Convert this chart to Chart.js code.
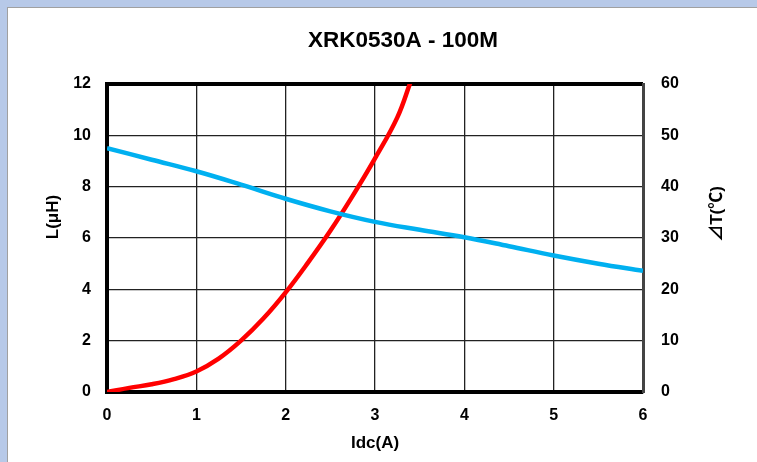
<!DOCTYPE html>
<html>
<head>
<meta charset="utf-8">
<script src="https://cdn.jsdelivr.net/npm/chart.js@4/dist/chart.umd.min.js"></script>
<style>
    html, body { margin: 0; padding: 0; }
    body { width: 757px; height: 462px; background: #b7c9e8; position: relative; overflow: hidden; }
    #panel { position: absolute; left: 7px; top: 7px; width: 760px; height: 470px; background: #fff; border: 1px solid #a0a0a0; }
    #wrap { position: absolute; left: 0; top: 0; width: 757px; height: 462px; }
</style>
</head>
<body>
<div id="panel"></div>
<div id="wrap"><canvas id="chart" width="757" height="462"></canvas></div>
<script>
// Dữ liệu biểu đồ
var chartTitle = 'XRK0530A - 100M';
var xTitle = 'Idc(A)';
var yTitle = 'L(μH)';
var y1Title = '⊿T(℃)';

// Đường cong L (trục trái)
var lCurrent = [0, 0.5, 1, 1.5, 2, 2.5, 3, 3.5, 4, 4.5, 5, 5.5, 6];
var lValues = [9.5, 9.05, 8.6, 8.08, 7.53, 7.04, 6.63, 6.32, 6.03, 5.68, 5.32, 5.0, 4.72];

// Đường cong nhiệt độ (trục phải)
var tCurrent = [0, 0.25, 0.5, 0.75, 1, 1.25, 1.5, 1.75, 2, 2.25, 2.5, 2.75, 3, 3.25, 3.4];
var tValues = [0, 0.8, 1.5, 2.5, 4.0, 6.5, 10, 14.3, 19.4, 25.2, 31.4, 38.2, 45.5, 53.5, 60.5];

var xTicks = [0, 1, 2, 3, 4, 5, 6];
var yTicks = [0, 2, 4, 6, 8, 10, 12];
var y1Ticks = [0, 10, 20, 30, 40, 50, 60];

var FONT = '"Liberation Sans", Arial, "Noto Sans CJK SC", sans-serif';

function toPoints(xs, ys) {
    return xs.map(function(x, i) { return { x: x, y: ys[i] }; });
}

// Vẽ tiêu đề và tên trục
var titlesPlugin = {
    id: 'titlesPlugin',
    afterDraw: function(chart) {
        var ctx = chart.ctx;
        ctx.save();
        ctx.fillStyle = '#000';
        ctx.textAlign = 'center';
        ctx.textBaseline = 'middle';
        ctx.font = 'bold 22.5px ' + FONT;
        ctx.fillText(chartTitle, 403, 41);
        ctx.font = 'bold 17px ' + FONT;
        ctx.fillText(xTitle, 375, 443);

        ctx.save();
        ctx.translate(53, 217);
        ctx.rotate(-Math.PI / 2);
        ctx.fillText(yTitle, 0, 0);
        ctx.restore();

        ctx.save();
        ctx.translate(717, 214);
        ctx.rotate(-Math.PI / 2);
        ctx.font = 'bold 17px ' + FONT;
        ctx.fillText(y1Title, 0, 0);
        ctx.restore();
        ctx.restore();
    }
};

var tickFont = { family: FONT, size: 16, weight: 'bold' };

new Chart(document.getElementById('chart').getContext('2d'), {
    type: 'line',
    data: {
        datasets: [
            {
                label: 'L',
                data: toPoints(lCurrent, lValues),
                yAxisID: 'y',
                borderColor: '#00b0f0',
                borderWidth: 4.5,
                pointRadius: 0,
                tension: 0.4,
                fill: false
            },
            {
                label: 'dT',
                data: toPoints(tCurrent, tValues),
                yAxisID: 'y1',
                borderColor: '#ff0000',
                borderWidth: 4.5,
                pointRadius: 0,
                tension: 0.4,
                fill: false
            }
        ]
    },
    options: {
        responsive: false,
        animation: false,
        layout: { padding: { top: 84, left: 0, right: 0, bottom: 0 } },
        plugins: {
            legend: { display: false },
            tooltip: { enabled: false },
            title: { display: false }
        },
        scales: {
            x: {
                type: 'linear',
                min: 0,
                max: 6,
                afterBuildTicks: function(s) { s.ticks = xTicks.map(function(v) { return { value: v }; }); },
                afterFit: function(s) { s.height = 70; },
                ticks: { font: tickFont, color: '#000', padding: 14 },
                grid: {
                    drawTicks: false,
                    color: function(c) { return c.tick && c.tick.value === 6 ? '#444' : '#222'; },
                    lineWidth: function(c) { return c.tick && c.tick.value === 6 ? 3 : 1.3; }
                },
                border: { display: true, color: '#000', width: 4 }
            },
            y: {
                position: 'left',
                min: 0,
                max: 12,
                afterBuildTicks: function(s) { s.ticks = yTicks.map(function(v) { return { value: v }; }); },
                afterFit: function(s) { s.width = 107; },
                ticks: { font: tickFont, color: '#000', padding: 16 },
                grid: {
                    drawTicks: false,
                    color: function(c) { return c.tick && c.tick.value === 12 ? '#000' : '#222'; },
                    lineWidth: function(c) { return c.tick && c.tick.value === 12 ? 4 : 1.3; }
                },
                border: { display: true, color: '#000', width: 4 }
            },
            y1: {
                position: 'right',
                min: 0,
                max: 60,
                afterBuildTicks: function(s) { s.ticks = y1Ticks.map(function(v) { return { value: v }; }); },
                afterFit: function(s) { s.width = 114; },
                ticks: { font: tickFont, color: '#000', padding: 18 },
                grid: { display: false, drawTicks: false },
                border: { display: true, color: '#444', width: 3 }
            }
        }
    },
    plugins: [titlesPlugin]
});
</script>
</body>
</html>
